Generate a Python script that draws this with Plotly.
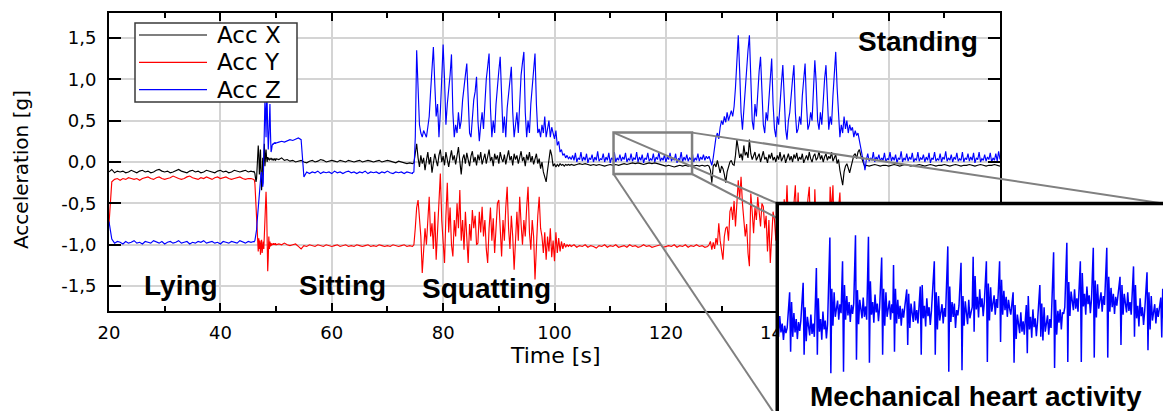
import numpy as np
import plotly.graph_objects as go

W, H = 1163, 411

# ---------------- data ----------------
# time segments (s): lying, transition, sitting, squatting 1, standing, squatting 2, standing end
seg_bounds = [(20.0, 46.0), (46.0, 50.0), (50.0, 74.5), (74.5, 103.0),
              (103.0, 127.5), (127.5, 156.0), (156.0, 180.0)]

# Acc X (black)
acc_x_lying = [-0.12, -0.09, -0.13, -0.11, -0.12, -0.11, -0.13, -0.12, -0.10, -0.12, -0.13, -0.11, -0.10,
               -0.12, -0.11, -0.13, -0.12, -0.10, -0.09, -0.11, -0.12, -0.11, -0.13, -0.12, -0.10, -0.09,
               -0.11, -0.12, -0.13, -0.11, -0.10, -0.12, -0.11, -0.13, -0.12, -0.10, -0.11, -0.12, -0.13,
               -0.11, -0.10, -0.12, -0.11, -0.13, -0.12, -0.10, -0.11, -0.12, -0.11, -0.10, -0.12, -0.11, -0.12]
acc_x_transition = [-0.11, -0.12, -0.14, -0.18, -0.24, -0.2, -0.1, 0.05, 0.2, 0.1, -0.15, -0.05, 0.15, -0.1,
                    -0.34, -0.2, 0.05, -0.1, 0.1, 0.22, -0.05, 0.1, 0.15, 0.05, 0.0, 0.06, 0.03, 0.05, 0.02,
                    0.04, 0.03, 0.05, 0.04, 0.02, 0.04, 0.03, 0.02, 0.04, 0.03, 0.02, 0.03]
acc_x_sitting = [0.04, 0.03, 0.05, 0.02, 0.03, 0.01, 0.02, 0.0, 0.01, 0.02, 0.0, -0.01, 0.01, 0.02, 0.0, 0.01,
                 0.03, 0.02, 0.0, 0.01, 0.02, 0.01, 0.0, 0.02, 0.01, 0.0, 0.02, 0.01, 0.0, 0.01, 0.02, 0.0,
                 0.01, 0.02, 0.01, 0.0, 0.01, 0.02, 0.0, 0.01, 0.02, 0.01, 0.0, -0.01, 0.01, 0.0, -0.01,
                 -0.02, -0.01, -0.02]
acc_x_squat1 = [-0.02, -0.01, 0.1, 0.22, 0.05, -0.06, 0.08, -0.02, 0.05, -0.1, 0.02, 0.12, -0.03, 0.06,
                -0.13, 0.0, 0.1, 0.02, -0.05, 0.08, 0.15, 0.0, 0.07, -0.04, 0.12, 0.03, -0.06, 0.05, 0.14,
                0.02, 0.08, -0.03, 0.06, 0.18, 0.01, -0.15, 0.04, 0.09, -0.02, 0.11, 0.03, -0.05, 0.07, 0.13,
                0.0, 0.06, -0.04, 0.09, 0.02, 0.12, -0.03, 0.05, 0.1, -0.02, 0.07, 0.15, 0.01, 0.06, -0.05,
                0.1, 0.03, 0.08, -0.02, 0.12, 0.04, 0.0, 0.09, -0.03, 0.06, 0.14, 0.02, 0.07, -0.04, 0.1,
                0.03, 0.08, -0.02, 0.05, 0.13, 0.01, 0.06, -0.05, 0.09, 0.02, 0.12, 0.0, 0.07, -0.03, 0.05,
                0.1, -0.02, 0.04, -0.08, 0.0, -0.12, -0.2, -0.24, -0.1, 0.02, 0.15, 0.08, -0.05, -0.02,
                -0.06, -0.03, -0.05, -0.02, -0.04, -0.03, -0.05, -0.03, -0.04, -0.03, -0.04, -0.03]
acc_x_standing = [-0.03, -0.04, -0.03, -0.02, -0.03, -0.02, -0.03, -0.04, -0.03, -0.04, -0.03, -0.04, -0.05,
                  -0.04, -0.03, -0.04, -0.03, -0.04, -0.03, -0.02, -0.03, -0.02, -0.01, -0.02, -0.01, -0.02,
                  -0.03, -0.02, -0.01, -0.02, -0.01, -0.02, -0.03, -0.04, -0.05, -0.04, -0.05, -0.06, -0.05,
                  -0.04, -0.05, -0.04, -0.05, -0.04, -0.05, -0.04, -0.05, -0.04, -0.05, -0.04]
acc_x_squat2 = [-0.04, -0.05, -0.1, -0.25, -0.05, -0.02, -0.06, 0.02, -0.05, -0.13, -0.05, -0.08, -0.15,
                -0.25, -0.12, -0.05, 0.0, 0.02, -0.03, -0.04, 0.08, 0.27, 0.15, 0.05, 0.1, 0.02, 0.2, 0.08,
                0.12, 0.05, 0.27, 0.1, 0.03, 0.08, 0.12, 0.02, 0.06, 0.1, 0.0, 0.07, 0.13, 0.03, 0.06, -0.01,
                0.09, 0.04, 0.11, 0.02, 0.06, 0.0, 0.08, 0.03, 0.12, 0.01, 0.05, 0.09, -0.01, 0.06, 0.1, 0.02,
                0.07, 0.0, 0.09, 0.04, 0.11, 0.01, 0.06, 0.03, 0.1, -0.01, 0.05, 0.08, 0.02, 0.12, 0.04, 0.0,
                0.07, 0.1, 0.02, 0.05, 0.13, 0.03, 0.08, 0.0, 0.06, 0.1, 0.02, 0.07, 0.04, 0.12, 0.01, 0.06,
                0.09, -0.02, 0.03, -0.1, -0.2, -0.28, -0.12, -0.05, -0.02, -0.08, -0.13, -0.06, 0.02, 0.08,
                0.1, 0.04, 0.12, 0.15, 0.08, 0.02, -0.02, -0.06, -0.04]
acc_x_end = [-0.04, -0.05, -0.04, -0.03, -0.04, -0.05, -0.04, -0.04, -0.05, -0.04, -0.03, -0.04, -0.05,
             -0.04, -0.03, -0.04, -0.05, -0.04, -0.04, -0.03, -0.04, -0.05, -0.04, -0.03, -0.04, -0.05,
             -0.04, -0.04, -0.03, -0.04, -0.05, -0.04, -0.03, -0.04, -0.05, -0.04, -0.04, -0.03, -0.04,
             -0.05, -0.04, -0.03, -0.04, -0.05, -0.04, -0.04, -0.03, -0.04, -0.05]

# Acc Y (red)
acc_y_lying = [-0.75, -0.24, -0.21, -0.2, -0.22, -0.2, -0.21, -0.19, -0.2, -0.21, -0.2, -0.22, -0.2, -0.19,
               -0.18, -0.2, -0.21, -0.19, -0.18, -0.2, -0.21, -0.2, -0.19, -0.17, -0.19, -0.2, -0.21, -0.2,
               -0.18, -0.17, -0.19, -0.2, -0.21, -0.19, -0.2, -0.18, -0.2, -0.21, -0.19, -0.18, -0.2, -0.19,
               -0.18, -0.2, -0.21, -0.2, -0.19, -0.18, -0.2, -0.21, -0.2, -0.2, -0.21]
acc_y_transition = [-0.21, -0.22, -0.26, -0.4, -0.58, -0.75, -0.9, -0.97, -1.08, -0.92, -1.05, -0.95, -1.12,
                    -1.0, -0.94, -1.1, -1.02, -0.96, -1.05, -0.9, -0.7, -0.45, -0.36, -0.55, -0.95, -1.32,
                    -1.15, -0.9, -1.05, -0.96, -1.02, -0.98, -1.01, -0.99, -1.0, -0.98, -1.0, -0.99, -1.0,
                    -0.98, -1.0]
acc_y_sitting = [-1.0, -0.99, -1.0, -0.98, -1.0, -1.01, -1.0, -0.99, -1.02, -1.05, -1.01, -1.02, -1.0, -1.01,
                 -1.02, -1.0, -1.01, -1.02, -1.0, -1.01, -1.02, -1.01, -1.0, -1.02, -1.01, -1.0, -1.02, -1.01,
                 -1.02, -1.0, -1.01, -1.02, -1.01, -1.0, -1.02, -1.01, -1.02, -1.0, -1.01, -1.02, -1.01,
                 -1.02, -1.0, -1.01, -1.02, -1.01, -1.0, -1.02, -1.01, -1.02]
acc_y_squat1 = [-1.02, -1.0, -0.8, -0.55, -0.46, -0.65, -0.9, -1.34, -1.1, -0.8, -1.0, -0.7, -0.42, -0.9,
                -0.74, -1.05, -0.6, -1.18, -0.8, -0.45, -0.14, -0.7, -1.0, -1.22, -0.65, -0.25, -0.85, -0.55,
                -1.0, -1.14, -0.7, -0.9, -0.5, -0.8, -0.34, -0.95, -0.7, -1.06, -0.6, -0.85, -1.22, -0.75,
                -0.95, -0.58, -0.8, -0.65, -1.0, -0.98, -0.6, -0.85, -0.54, -0.9, -0.7, -1.05, -1.22, -0.8,
                -0.55, -0.95, -0.68, -1.1, -0.75, -0.5, -0.46, -0.85, -1.14, -0.7, -0.95, -0.55, -0.3, -0.8,
                -1.05, -0.65, -0.9, -1.3, -0.85, -0.6, -0.95, -0.42, -0.75, -1.0, -0.7, -0.9, -0.55, -0.3,
                -0.85, -1.06, -0.7, -0.9, -1.42, -1.0, -0.65, -0.42, -0.8, -0.9, -1.1, -0.85, -1.18, -0.9,
                -1.08, -0.8, -1.15, -0.95, -1.2, -0.85, -1.1, -0.92, -1.08, -0.96, -1.05, -0.98, -1.03, -1.0,
                -1.02, -1.0, -1.02]
acc_y_standing = [-1.02, -1.0, -1.03, -1.01, -1.02, -1.0, -1.03, -1.01, -1.02, -1.04, -1.01, -1.02, -1.0,
                  -1.03, -1.01, -1.02, -1.0, -1.03, -1.02, -1.01, -1.03, -1.0, -1.02, -1.01, -1.03, -1.02,
                  -1.0, -1.02, -1.01, -1.03, -1.02, -1.01, -1.0, -1.03, -1.02, -1.01, -1.02, -1.0, -1.03,
                  -1.01, -1.02, -1.0, -1.03, -1.01, -1.02, -1.0, -1.02, -1.01, -1.03, -1.02]
acc_y_squat2 = [-1.02, -1.0, -0.96, -1.06, -0.97, -1.05, -0.92, -1.0, -0.74, -0.95, -1.08, -1.18, -0.9, -0.8,
                -0.78, -0.95, -0.6, -0.54, -0.7, -0.47, -0.78, -0.55, -0.22, -0.45, -0.18, -0.5, -0.66, -0.9,
                -0.75, -1.1, -1.26, -0.38, -0.6, -0.86, -0.55, -0.7, -0.42, -0.65, -0.78, -0.5, -0.54, -0.8,
                -0.65, -1.08, -0.7, -1.22, -0.85, -0.6, -0.7, -0.95, -0.55, -0.8, -1.1, -0.65, -0.9, -0.45,
                -0.7, -0.28, -0.85, -1.2, -0.6, -0.9, -0.5, -0.28, -0.8, -0.37, -1.05, -0.7, -0.95, -0.55,
                -1.15, -0.75, -0.45, -0.3, -0.9, -0.65, -1.1, -0.33, -0.8, -1.0, -0.6, -0.85, -1.2, -0.7,
                -0.5, -0.95, -0.75, -1.05, -0.3, -0.6, -0.28, -0.9, -1.1, -0.75, -0.55, -0.37, -0.85, -1.05,
                -0.8, -1.1, -0.9, -1.05, -0.95, -1.08, -0.98, -1.04, -0.99, -1.02, -1.0, -1.03, -1.01, -1.02,
                -1.0, -1.02, -1.01]
acc_y_end = [-1.02, -1.0, -1.03, -1.01, -1.02, -1.0, -1.03, -1.01, -1.02, -1.01, -1.03, -1.0, -1.02, -1.01,
             -1.03, -1.02, -1.0, -1.02, -1.01, -1.03, -1.02, -1.01, -1.0, -1.03, -1.02, -1.01, -1.02, -1.0,
             -1.03, -1.01, -1.02, -1.0, -1.03, -1.01, -1.02, -1.0, -1.02, -1.01, -1.03, -1.02, -1.01, -1.0,
             -1.02, -1.01, -1.03, -1.02, -1.0, -1.02, -1.01]

# Acc Z (blue)
acc_z_lying = [-0.72, -0.93, -0.98, -0.96, -0.97, -0.99, -0.96, -0.98, -0.97, -0.95, -0.98, -0.97, -0.99,
               -0.96, -0.97, -0.98, -0.95, -0.97, -0.98, -0.96, -0.99, -0.97, -0.96, -0.98, -0.97, -0.95,
               -0.98, -0.97, -0.96, -0.99, -0.97, -0.98, -0.96, -0.97, -0.95, -0.98, -0.97, -0.96, -0.98,
               -0.97, -0.99, -0.96, -0.97, -0.98, -0.96, -0.97, -0.98, -0.95, -0.97, -0.98, -0.96, -0.97, -0.96]
acc_z_transition = [-0.97, -0.96, -0.95, -0.92, -0.88, -0.82, -0.72, -0.62, -0.55, -0.48, -0.4, -0.3, -0.2,
                    -0.14, -0.12, -0.2, -0.3, -0.25, 0.2, 0.6, 0.75, 0.6, 0.3, 0.75, 0.72, 0.4, 0.15, 0.3, 0.6,
                    0.7, 0.35, 0.12, 0.15, 0.2, 0.22, 0.21, 0.23, 0.22, 0.24, 0.22, 0.23]
acc_z_sitting = [0.23, 0.24, 0.25, 0.24, 0.26, 0.27, 0.26, 0.28, 0.29, 0.27, -0.18, -0.12, -0.14, -0.12,
                 -0.13, -0.11, -0.14, -0.12, -0.13, -0.12, -0.14, -0.11, -0.13, -0.12, -0.14, -0.12, -0.11,
                 -0.13, -0.12, -0.14, -0.12, -0.13, -0.11, -0.14, -0.12, -0.13, -0.12, -0.14, -0.12, -0.13,
                 -0.11, -0.13, -0.14, -0.12, -0.13, -0.12, -0.14, -0.12, -0.13, -0.14]
acc_z_squat1 = [-0.13, -0.12, 0.3, 1.35, 0.9, 0.45, 0.35, 0.3, 0.38, 0.33, 0.3, 0.42, 0.55, 0.85, 1.15, 1.39,
                0.95, 0.55, 0.7, 0.3, 0.6, 0.95, 1.42, 1.0, 0.45, 0.7, 0.85, 1.05, 1.3, 0.6, 0.3, 0.45, 0.35,
                0.6, 0.4, 0.5, 0.75, 0.95, 1.05, 1.19, 0.7, 0.35, 0.3, 0.55, 0.75, 0.85, 1.03, 0.5, 0.25, 0.45,
                0.6, 0.4, 0.75, 1.0, 1.15, 1.31, 0.65, 0.3, 0.5, 0.35, 0.7, 0.95, 1.1, 1.27, 0.75, 0.35, 0.55,
                0.3, 0.65, 0.8, 1.0, 1.15, 0.6, 0.3, 0.45, 0.6, 0.35, 0.75, 1.05, 1.2, 1.33, 0.6, 0.3, 0.5,
                0.35, 0.7, 0.9, 1.1, 1.31, 0.7, 0.35, 0.4, 0.3, 0.45, 0.35, 0.55, 0.3, 0.4, 0.5, 0.3, 0.42,
                0.35, 0.28, 0.38, 0.2, 0.25, 0.12, 0.15, 0.08, 0.1, 0.05, 0.08, 0.04, 0.06, 0.03]
acc_z_standing = [0.03, 0.08, 0.02, 0.11, 0.0, 0.05, 0.03, 0.12, 0.01, 0.06, 0.02, 0.1, -0.01, 0.05, 0.03,
                  0.09, 0.0, 0.06, 0.02, 0.13, 0.01, 0.04, 0.03, 0.1, 0.0, 0.06, 0.02, 0.11, -0.01, 0.05, 0.03,
                  0.12, 0.0, 0.05, 0.02, 0.09, 0.01, 0.06, 0.03, 0.11, 0.0, 0.04, 0.02, 0.1, 0.01, 0.05, 0.03,
                  0.12, 0.0, 0.06, 0.02, 0.09, -0.01, 0.05, 0.03, 0.11, 0.01, 0.04, 0.02, 0.1, 0.0, 0.06, 0.03,
                  0.12, 0.01, 0.05, 0.02, 0.09, 0.0, 0.06, 0.03, 0.11, 0.01, 0.05, 0.02, 0.1, -0.01, 0.04, 0.03,
                  0.12, 0.0, 0.06, 0.02, 0.09, 0.01, 0.05, 0.03, 0.11, 0.0, 0.05, 0.02, 0.1, 0.01, 0.06, 0.03,
                  0.09, 0.02, 0.07, 0.04]
acc_z_squat2 = [0.04, 0.07, 0.02, -0.04, 0.05, 0.2, 0.3, 0.35, 0.28, 0.42, 0.5, 0.45, 0.55, 0.48, 0.6, 0.5,
                0.58, 0.62, 0.55, 0.67, 0.9, 1.15, 1.53, 1.1, 0.6, 0.39, 0.65, 0.85, 1.1, 1.35, 1.53, 0.9, 0.5,
                0.39, 0.7, 0.55, 0.9, 1.1, 1.27, 0.75, 0.45, 0.35, 0.6, 0.5, 0.8, 1.05, 1.25, 0.7, 0.4, 0.3,
                0.55, 0.45, 0.75, 0.95, 1.17, 0.65, 0.4, 0.27, 0.5, 0.6, 0.85, 1.0, 1.17, 0.6, 0.35, 0.4, 0.55,
                0.45, 0.8, 1.0, 1.19, 0.7, 0.39, 0.45, 0.6, 0.5, 0.85, 1.23, 0.95, 0.5, 0.39, 0.6, 0.45, 0.75,
                1.0, 1.17, 0.7, 0.39, 0.55, 0.45, 0.8, 1.05, 1.33, 0.9, 0.5, 0.3, 0.45, 0.35, 0.55, 0.4, 0.5,
                0.35, 0.45, 0.38, 0.42, 0.3, 0.38, 0.32, 0.35, 0.25, 0.18, 0.08, 0.02, -0.1, 0.03]
acc_z_end = [0.03, 0.1, 0.01, 0.05, 0.02, 0.12, 0.0, 0.06, 0.03, 0.09, 0.01, 0.05, 0.02, 0.11, 0.0, 0.04,
             0.03, 0.12, 0.01, 0.06, 0.02, 0.09, -0.01, 0.05, 0.03, 0.13, 0.0, 0.05, 0.02, 0.1, 0.01, 0.06,
             0.03, 0.11, 0.0, 0.04, 0.02, 0.12, 0.01, 0.05, 0.03, 0.09, 0.0, 0.06, 0.02, 0.11, -0.01, 0.05,
             0.03, 0.12, 0.01, 0.04, 0.02, 0.1, 0.0, 0.06, 0.03, 0.13, 0.01, 0.05, 0.02, 0.09, 0.0, 0.06,
             0.03, 0.11, 0.01, 0.04, 0.02, 0.12, 0.0, 0.05, 0.03, 0.1, 0.01, 0.06, 0.02, 0.11, -0.01, 0.05,
             0.03, 0.12, 0.0, 0.04, 0.02, 0.09, 0.01, 0.06, 0.03, 0.11, 0.0, 0.05, 0.02, 0.1, 0.01, 0.13, 0.03]

# Inset: zoom of Acc Z while standing (mechanical heart activity)
inset_t_range = [110.5, 124.5]
beat_times = [110.95, 111.44, 111.92, 112.41, 112.87, 113.34, 113.81, 114.29, 114.72, 115.2, 115.69, 116.2,
              116.69, 117.17, 117.61, 118.09, 118.57, 119.06, 119.54, 120.03, 120.53, 121.01, 121.5, 121.97,
              122.46, 122.94, 123.43, 123.92, 124.42]
beat_peak = [0.060, 0.073, 0.093, 0.134, 0.102, 0.137, 0.135, 0.107, 0.097, 0.064, 0.068, 0.102, 0.122,
             0.100, 0.108, 0.102, 0.102, 0.060, 0.043, 0.070, 0.114, 0.127, 0.102, 0.120, 0.120, 0.081,
             0.095, 0.087, 0.053]
beat_trough = [-0.020, -0.024, -0.024, -0.049, -0.047, -0.031, -0.035, -0.024, -0.020, -0.011, -0.024,
               -0.024, -0.047, -0.045, 0.007, -0.034, -0.007, -0.035, -0.022, 0.0, -0.042, -0.034, -0.034,
               -0.028, -0.028, -0.011, 0.0, -0.018, -0.001]
inset_lead = [0.02, 0.0, 0.028, 0.006, 0.018, -0.004, 0.015, 0.005, 0.012]
beat_ringing = [
    [0.047, 0.0, 0.032, 0.006, 0.024, -0.003, 0.02, 0.008, 0.022],
    [0.04, -0.006, 0.027, 0.014, 0.002, 0.03, 0.004, 0.018, 0.0],
    [0.052, 0.007, 0.024, -0.004, 0.034, 0.01, 0.022, -0.002, 0.017],
    [0.065, 0.015, 0.06, 0.027, 0.039, 0.049, 0.023, 0.044, 0.032],
    [0.07, 0.023, 0.055, 0.029, 0.047, 0.02, 0.043, 0.031, 0.045],
    [0.063, 0.017, 0.05, 0.037, 0.025, 0.053, 0.027, 0.041, 0.023],
    [0.075, 0.03, 0.047, 0.019, 0.057, 0.033, 0.045, 0.021, 0.04],
    [0.065, 0.015, 0.06, 0.027, 0.039, 0.049, 0.023, 0.044, 0.032],
    [0.065, 0.018, 0.05, 0.024, 0.042, 0.015, 0.038, 0.026, 0.04],
    [0.058, 0.012, 0.045, 0.032, 0.02, 0.048, 0.022, 0.036, 0.018],
    [0.07, 0.025, 0.042, 0.014, 0.052, 0.028, 0.04, 0.016, 0.035],
    [0.06, 0.01, 0.055, 0.022, 0.034, 0.044, 0.018, 0.039, 0.027],
    [0.068, 0.02, 0.047, 0.027, 0.045, 0.012, 0.036, 0.029, 0.042],
    [0.055, 0.015, 0.048, 0.03, 0.017, 0.05, 0.025, 0.033, 0.04],
    [0.082, 0.037, 0.054, 0.026, 0.064, 0.04, 0.052, 0.028, 0.047],
    [0.072, 0.022, 0.067, 0.034, 0.046, 0.056, 0.03, 0.051, 0.039],
    [0.077, 0.03, 0.062, 0.036, 0.054, 0.027, 0.05, 0.038, 0.03],
    [0.043, -0.003, 0.03, 0.017, 0.005, 0.033, 0.007, 0.021, 0.003],
    [0.055, 0.01, 0.027, -0.001, 0.037, 0.013, 0.025, 0.001, 0.02],
    [0.045, -0.005, 0.04, 0.007, 0.019, 0.029, 0.003, 0.024, 0.012],
    [0.05, 0.003, 0.035, 0.019, 0.037, 0.01, 0.033, 0.031, 0.04],
    [0.074, 0.028, 0.061, 0.048, 0.036, 0.064, 0.038, 0.052, 0.034],
    [0.086, 0.041, 0.058, 0.03, 0.068, 0.044, 0.056, 0.032, 0.051],
    [0.076, 0.026, 0.071, 0.038, 0.05, 0.06, 0.034, 0.055, 0.043],
    [0.081, 0.034, 0.066, 0.04, 0.058, 0.031, 0.054, 0.042, 0.056],
    [0.07, 0.03, 0.058, 0.045, 0.033, 0.06, 0.035, 0.047, 0.03],
    [0.07, 0.025, 0.042, 0.014, 0.052, 0.028, 0.04, 0.016, 0.035],
    [0.06, 0.01, 0.055, 0.022, 0.034, 0.044, 0.018, 0.039, 0.027],
    [0.065, 0.018, 0.05, 0.024, 0.042, 0.015, 0.038, 0.026, 0.04]]

# axes
x_range = [20, 180]
y_range = [-1.8, 1.8]
y_tick_vals = [-1.5, -1.0, -0.5, 0.0, 0.5, 1.0, 1.5]
y_tick_text = ["-1,5", "-1,0", "-0,5", "0,0", "0,5", "1,0", "1,5"]
zoom_box_t = [110.6, 124.7]
zoom_box_v = [-0.145, 0.355]
inset_v_range = [-0.1, 0.18]
phase_labels = ["Lying", "Sitting", "Squatting", "Standing"]
series_names = ["Acc X", "Acc Y", "Acc Z"]
series_colors = ["#000000", "#ff0000", "#0000ff"]


# ---------------- build ----------------
def series(parts):
    ts, vs = [], []
    for (a, b), vals in zip(seg_bounds, parts):
        ts.extend(np.linspace(a, b, len(vals)).tolist())
        vs.extend(vals)
    return ts, vs


tx, vx = series([acc_x_lying, acc_x_transition, acc_x_sitting, acc_x_squat1, acc_x_standing, acc_x_squat2, acc_x_end])
ty, vy = series([acc_y_lying, acc_y_transition, acc_y_sitting, acc_y_squat1, acc_y_standing, acc_y_squat2, acc_y_end])
tz, vz = series([acc_z_lying, acc_z_transition, acc_z_sitting, acc_z_squat1, acc_z_standing, acc_z_squat2, acc_z_end])

it, iv = [], []
for k, v in enumerate(inset_lead):
    it.append(inset_t_range[0] + 0.045 * k)
    iv.append(v)
for i, t0 in enumerate(beat_times):
    it += [t0, t0 + 0.035]
    iv += [beat_peak[i], beat_trough[i]]
    for k, v in enumerate(beat_ringing[i]):
        it.append(t0 + 0.07 + 0.042 * k)
        iv.append(v)

X_DOM = [109 / W, 1000 / W]
Y_DOM = [1 - 311 / H, 1 - 13 / H]


def dpx(t):
    return X_DOM[0] + (t - x_range[0]) / (x_range[1] - x_range[0]) * (X_DOM[1] - X_DOM[0])


def dpy(v):
    return Y_DOM[0] + (v - y_range[0]) / (y_range[1] - y_range[0]) * (Y_DOM[1] - Y_DOM[0])


def P(px, py):
    return px / W, 1 - py / H


INSET_L = dpx(140)
INSET_T = dpy(-0.5)
INSET_B = 1 - 418 / H

fig = go.Figure()
for t, v, name, col in zip([tx, ty, tz], [vx, vy, vz], series_names, series_colors):
    fig.add_trace(go.Scatter(x=t, y=v, mode="lines", name=name, line=dict(color=col, width=1.15),
                             xaxis="x", yaxis="y", showlegend=False))
fig.add_trace(go.Scatter(x=it, y=iv, mode="lines", name="Acc Z (zoom)", line=dict(color="#0000ff", width=1.5),
                         xaxis="x2", yaxis="y2", showlegend=False))

axis_common = dict(showline=True, linewidth=2, linecolor="black", mirror="ticks", ticks="inside",
                   tickcolor="black", tickwidth=1.5, showgrid=True, gridcolor="#d4d4d4", gridwidth=1.5,
                   zeroline=False, automargin=False, tickfont=dict(size=18, family="DejaVu Sans", color="black"))

fig.update_layout(
    width=W, height=H, margin=dict(l=0, r=0, t=0, b=0),
    paper_bgcolor="white", plot_bgcolor="white", showlegend=False,
    font=dict(family="DejaVu Sans", color="black"),
    xaxis=dict(domain=X_DOM, range=x_range, anchor="y", tickmode="linear", tick0=20, dtick=20, ticklen=8,
               minor=dict(tick0=20, dtick=10, ticks="inside", ticklen=5, tickwidth=1.5, tickcolor="black",
                          showgrid=False),
               ticklabelstandoff=4, **axis_common),
    yaxis=dict(domain=Y_DOM, range=y_range, anchor="x", tickmode="array", tickvals=y_tick_vals,
               ticktext=y_tick_text, ticklen=12, ticklabelstandoff=7, **axis_common),
    xaxis2=dict(domain=[INSET_L, 1.0], range=inset_t_range, anchor="y2", visible=False),
    yaxis2=dict(domain=[0.0, INSET_T], range=inset_v_range, anchor="x2", visible=False),
)

grey = "#808080"
shapes = []
# zoom box
shapes.append(dict(type="rect", xref="x", yref="y", x0=zoom_box_t[0], x1=zoom_box_t[1], y0=zoom_box_v[0],
                   y1=zoom_box_v[1], line=dict(color=grey, width=2.5), layer="above"))
bl = (dpx(zoom_box_t[0]), dpy(zoom_box_v[0]))
tl = (dpx(zoom_box_t[0]), dpy(zoom_box_v[1]))
br = (dpx(zoom_box_t[1]), dpy(zoom_box_v[0]))
tr = (dpx(zoom_box_t[1]), dpy(zoom_box_v[1]))
# projection lines
br_end_y = br[1] + (INSET_B - br[1]) * (INSET_L - br[0]) / (1.0 - br[0])
for (x0, y0), (x1, y1) in [(tr, (1.0, INSET_T)), (tl, (INSET_L, INSET_T)), (bl, (INSET_L, INSET_B)),
                           (br, (INSET_L, br_end_y))]:
    shapes.append(dict(type="line", xref="paper", yref="paper", x0=x0, y0=y0, x1=x1, y1=y1,
                       line=dict(color=grey, width=2), layer="above"))
# inset frame
shapes.append(dict(type="rect", xref="paper", yref="paper", x0=INSET_L, x1=1.05, y0=-0.05, y1=INSET_T,
                   line=dict(color="black", width=3.5), layer="above"))
# legend box
lx0, ly0 = P(135, 23)
lx1, ly1 = P(297, 102)
shapes.append(dict(type="rect", xref="paper", yref="paper", x0=lx0, x1=lx1, y0=ly1, y1=ly0,
                   fillcolor="white", line=dict(color="#3a3a3a", width=1.5), layer="above"))
legend_rows = [35, 62.3, 89.7]
for py, col in zip(legend_rows, series_colors):
    a = P(139, py)
    b = P(207, py)
    shapes.append(dict(type="line", xref="paper", yref="paper", x0=a[0], y0=a[1], x1=b[0], y1=b[1],
                       line=dict(color=col, width=1.2), layer="above"))
fig.update_layout(shapes=shapes)

ann = []
for py, name in zip(legend_rows, series_names):
    x, y = P(215, py)
    ann.append(dict(x=x, y=y, xref="paper", yref="paper", text=name, showarrow=False, xanchor="left",
                    yanchor="middle", font=dict(size=23, family="DejaVu Sans", color="black")))
bold_font = dict(size=28, family="Liberation Sans, Arial", color="black")
for text, (px, py) in zip(phase_labels + ["Mechanical heart activity"],
                          [(180.5, 285), (342.5, 285), (486, 288), (917.5, 42), (975.5, 396)]):
    x, y = P(px, py)
    ann.append(dict(x=x, y=y, xref="paper", yref="paper", text="<b>" + text + "</b>", showarrow=False,
                    xanchor="center", yanchor="middle", font=bold_font))
x, y = P(555, 355)
ann.append(dict(x=x, y=y, xref="paper", yref="paper", text="Time [s]", showarrow=False,
                xanchor="center", yanchor="middle", font=dict(size=22, family="DejaVu Sans", color="black")))
x, y = P(21, 170)
ann.append(dict(x=x, y=y, xref="paper", yref="paper", text="Acceleration [g]", showarrow=False, textangle=-90,
                xanchor="center", yanchor="middle", font=dict(size=20, family="DejaVu Sans", color="black")))
fig.update_layout(annotations=ann)

fig.write_html("out.html", config={"displayModeBar": False},
               post_script="document.body.style.margin='0px';")
